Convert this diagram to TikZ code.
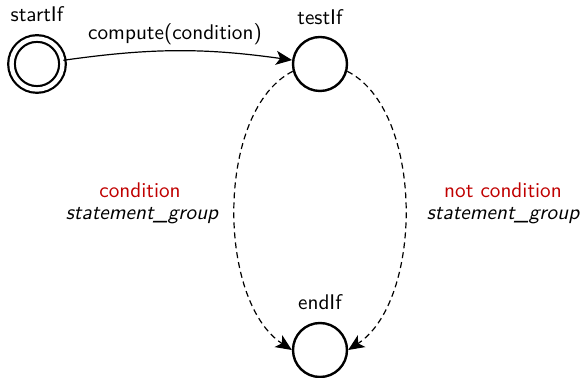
\documentclass[tikz,border=0pt]{standalone}
\usetikzlibrary{arrows.meta}
\definecolor{labred}{RGB}{192,0,0}
\begin{document}
\begin{tikzpicture}[x=0.5pt,y=-0.5pt,
  font=\sffamily\fontsize{10.6}{12.5}\selectfont,
  statenode/.style={circle, draw, line width=1.2pt, minimum size=27pt, inner sep=0pt},
  acceptnode/.style={statenode, double, double distance=2.2pt, line width=1.1pt, minimum size=25.5pt},
  lbl/.style={inner sep=0pt, anchor=base},
  edge/.style={line width=0.6pt, -{Stealth[length=8pt,width=7pt,inset=2pt]}},
  dedge/.style={edge, dash pattern=on 3pt off 2pt}]
\useasboundingbox (0,0) rectangle (583,378);
\node[acceptnode] (startIf) at (37,64) {};
\node[statenode] (testIf) at (320,64) {};
\node[statenode] (endIf) at (320,350) {};
\node[lbl] (tStart) at (37,22) {startIf};
\node[lbl] (tTest) at (320,25) {testIf};
\node[lbl] (tEnd) at (320,310) {endIf};
\node[lbl] (tCompute) at (175,40) {compute(condition)};
\node[lbl, text=labred] (tCondL) at (140,198) {condition};
\node[lbl] (tStmtL) at (142,220) {\itshape statement\_group};
\node[lbl, text=labred] (tCondR) at (503,198) {not condition};
\node[lbl] (tStmtR) at (503,220) {\itshape statement\_group};
\draw[edge] (startIf) to[bend left=8] (testIf);
\draw[dedge] (testIf.195) .. controls (216,110) and (216,300) .. (endIf.west);
\draw[dedge] (testIf.-15) .. controls (424,110) and (424,300) .. (endIf.east);
\end{tikzpicture}
\end{document}
